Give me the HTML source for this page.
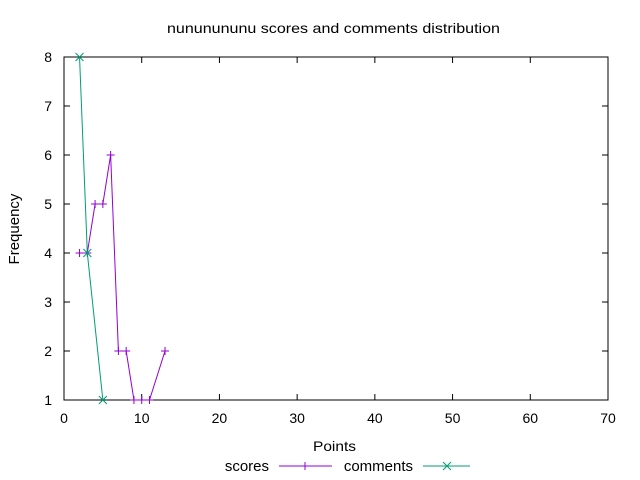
<!DOCTYPE html>
<html><head><meta charset="utf-8"><style>body{margin:0;background:#fff}svg{display:block;font-family:"Liberation Sans",sans-serif;font-size:14px}</style></head>
<body>
<svg id="c" width="640" height="480"></svg>
<script>
const xTicks=[0,10,20,30,40,50,60,70];
const yTicks=[1,2,3,4,5,6,7,8];
const scoresX=[2,3,4,5,6,7,8,9,10,11,13];
const scoresY=[4,4,5,5,6,2,2,1,1,1,2];
const commentsX=[2,3,5];
const commentsY=[8,4,1];
const NS="http://www.w3.org/2000/svg";
const svg=document.getElementById('c');
const L=64,R=608,T=57,B=400;
const sx=v=>L+(v-0)/(70-0)*(R-L);
const sy=v=>B-(v-1)/(8-1)*(B-T);
function el(t,a,txt){const e=document.createElementNS(NS,t);for(const k in a)e.setAttribute(k,a[k]);if(txt!==undefined)e.textContent=txt;svg.appendChild(e);return e;}
let e=el('rect',{x:L,y:T,width:R-L,height:B-T,fill:'none',stroke:'#000'});


xTicks.forEach(v=>{
 const x=sx(v);
 let t=el('path',{d:`M${x},${B}v-6M${x},${T}v6`,stroke:'#000'});
 
 
 let l=el('text',{x:x,y:B+23,'text-anchor':'middle'},v);
 
 
});
yTicks.forEach(v=>{
 const y=sy(v);
 let t=el('path',{d:`M${L},${y}h6M${R},${y}h-6`,stroke:'#000'});
 
 
 let l=el('text',{x:L-12,y:y+5,'text-anchor':'end'},v);
 
 
});
e=el('text',{x:167,y:33,textLength:333,lengthAdjust:'spacingAndGlyphs'},'nununununu scores and comments distribution');


e=el('text',{x:313,y:451,textLength:43,lengthAdjust:'spacingAndGlyphs'},'Points');


e=el('text',{x:229,y:19,'text-anchor':'middle',transform:'rotate(-90 19 229)','font-size':'15'},'Frequency');
e.setAttribute('x',-229);
e.setAttribute('y',19);
e.setAttribute('transform','rotate(-90)');


function plus(x,y){return `M${x-4},${y}h8M${x},${y-4}v8`;}
function cross(x,y){return `M${x-4},${y-4}l8,8M${x-4},${y+4}l8,-8`;}
function series(xs,ys,c,mk,name){
 let d=xs.map((v,i)=>(i?'L':'M')+sx(v)+','+sy(ys[i])).join('');
 let p=el('path',{d:d,fill:'none',stroke:c,'stroke-width':1});
 
 
 let m=el('path',{d:xs.map((v,i)=>mk(sx(v),sy(ys[i]))).join(''),stroke:c,fill:'none'});
 
 
}
series(scoresX,scoresY,'#9400d3',plus,'scores');
series(commentsX,commentsY,'#009e73',cross,'comments');
e=el('text',{x:269,y:471,'text-anchor':'end','font-size':'15'},'scores');


e=el('path',{d:'M279,466h53'+plus(305,466),stroke:'#9400d3',fill:'none'});


e=el('text',{x:413,y:471,'text-anchor':'end','font-size':'15'},'comments');


e=el('path',{d:'M423,466h47'+cross(447,466),stroke:'#009e73',fill:'none'});


</script>
</body></html>
